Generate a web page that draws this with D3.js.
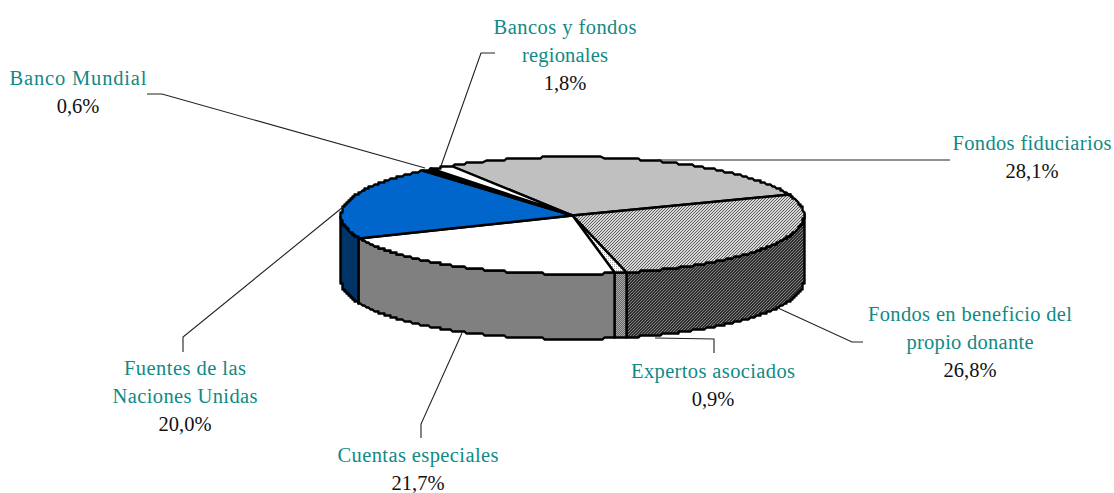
<!DOCTYPE html>
<html>
<head>
<meta charset="utf-8">
<script src="https://cdn.jsdelivr.net/npm/d3@7"></script>
<style>
  html, body { margin: 0; padding: 0; background: #fff; }
  svg { display: block; }
  text { font-family: "Liberation Serif", serif; font-size: 20.5px; text-anchor: middle; }
  .name { fill: #0f8a86; }
  .value { fill: #111; }
</style>
</head>
<body>
<svg id="chart" width="1114" height="493"></svg>
<script>
// Shares of the funding sources, clockwise from the back of the disc
const sources = [
  "Fondos fiduciarios",
  "Fondos en beneficio del propio donante",
  "Expertos asociados",
  "Cuentas especiales",
  "Fuentes de las Naciones Unidas",
  "Banco Mundial",
  "Bancos y fondos regionales"
];
const shares = [28.1, 26.8, 0.9, 21.7, 20.0, 0.6, 1.8];
const shareLabels = ["28,1%", "26,8%", "0,9%", "21,7%", "20,0%", "0,6%", "1,8%"];

const labelLines = [
  [["Fondos fiduciarios", 1032, 150, 159]],
  [["Fondos en beneficio del", 970, 321, 204], ["propio donante", 970, 349, 127]],
  [["Expertos asociados", 713, 378, 164]],
  [["Cuentas especiales", 418, 462, 161]],
  [["Fuentes de las", 185, 375, 122], ["Naciones Unidas", 185, 403, 145]],
  [["Banco Mundial", 78, 85, 137]],
  [["Bancos y fondos", 565, 34, 143], ["regionales", 565, 62, 86]]
];
const leaders = [
  [[657, 160], [950, 160]],
  [[778, 308], [852, 342], [863, 342]],
  [[655, 338], [714, 339], [714, 353]],
  [[462, 333], [421, 424], [421, 438]],
  [[343, 207], [183, 337], [183, 352]],
  [[425, 168], [162, 94], [147, 94]],
  [[441, 166], [481, 53], [495, 53]]
];

const topFills = ["#c0c0c0", "url(#hatchLight)", "url(#dotsLight)", "#ffffff", "#0066cc", "#000000", "#ffffff"];
const sideFills = ["#808080", "url(#hatchDark)", "url(#dotsDark)", "#808080", "#003366", "#000000", "#808080"];

const centerX = 572, centerY = 215, radiusX = 231.5, radiusY = 58.5, depth = 65;
const firstAngle = -31.5 * Math.PI / 180;

const svg = d3.select("#chart");
const defs = svg.append("defs");

// Pixel-level fill textures for the patterned slices
function texture(id, size, base, ink, cells) {
  const p = defs.append("pattern").attr("id", id).attr("patternUnits", "userSpaceOnUse")
    .attr("width", size).attr("height", size);
  p.append("rect").attr("width", size).attr("height", size).attr("fill", base);
  p.selectAll("rect.c").data(cells).join("rect").attr("class", "c")
    .attr("x", d => d[0]).attr("y", d => d[1]).attr("width", 1).attr("height", 1)
    .attr("fill", ink).attr("shape-rendering", "crispEdges");
}
texture("hatchLight", 3, "#d8d8d8", "#5c5c5c", [[0, 0], [1, 2], [2, 1]]);
texture("hatchDark", 3, "#808080", "#303030", [[0, 0], [1, 2], [2, 1], [1, 0], [2, 2], [0, 1]]);
texture("dotsLight", 2, "#ffffff", "#b0b0b0", [[0, 0]]);
texture("dotsDark", 2, "#6a6a6a", "#a8a8a8", [[0, 0], [1, 1]]);

const pie = d3.pie().sort(null).value(d => d)
  .startAngle(firstAngle).endAngle(firstAngle + 2 * Math.PI);
const slices = pie(shares);

// Angle on the disc (0 = back, clockwise) to screen position on the tilted ellipse,
// snapped to a coarse grid so the rim keeps its bumpy outline
const px = d3.scaleLinear().domain([-1, 1]).range([centerX - radiusX, centerX + radiusX]);
const py = d3.scaleLinear().domain([-1, 1]).range([centerY - radiusY, centerY + radiusY]);
const snap = v => Math.round(v / 2) * 2 + 0.5;
const rim = (a, drop = 0) => [snap(px(Math.sin(a))), snap(py(-Math.cos(a))) + drop];
const line = d3.line();
const samples = (a0, a1) => d3.range(0, 161).map(i => a0 + (a1 - a0) * i / 160);

const chart = svg.append("g");

// Only the front half of the wall is seen, from the right edge round to the left
const frontStart = Math.PI / 2, frontEnd = 3 * Math.PI / 2;
const walls = slices.map((s, i) => {
  const a0 = Math.max(s.startAngle, frontStart), a1 = Math.min(s.endAngle, frontEnd);
  return a1 > a0 ? { i, a0, a1 } : null;
}).filter(Boolean);

chart.selectAll("path.wall").data(walls).join("path").attr("class", "wall")
  .attr("d", d => {
    const upper = samples(d.a0, d.a1).map(a => rim(a));
    const lower = samples(d.a1, d.a0).map(a => rim(a, depth));
    return line(upper.concat(lower)) + "Z";
  })
  .attr("fill", d => sideFills[d.i])
  .attr("stroke", "#000").attr("stroke-width", 2.4)
  .attr("stroke-linejoin", "round");

chart.selectAll("path.top").data(slices).join("path").attr("class", "top")
  .attr("d", (s) => line([[centerX + 0.5, centerY + 0.5]].concat(samples(s.startAngle, s.endAngle).map(a => rim(a)))) + "Z")
  .attr("fill", (s, i) => topFills[i])
  .attr("stroke", "#000").attr("stroke-width", 2.4)
  .attr("stroke-linejoin", "round");

// Leader lines from the slices out to their labels
svg.append("g").selectAll("path").data(leaders).join("path")
  .attr("d", d => line(d))
  .attr("fill", "none").attr("stroke", "#222").attr("stroke-width", 1.1);

// Slice names in teal with the share below in black
const labels = svg.append("g").selectAll("g").data(sources).join("g");
labels.each(function (name, i) {
  const g = d3.select(this);
  const rows = labelLines[i];
  rows.forEach(r => {
    g.append("text").attr("class", "name").attr("x", r[1]).attr("y", r[2])
      .attr("textLength", r[3]).attr("lengthAdjust", "spacing").text(r[0]);
  });
  const last = rows[rows.length - 1];
  g.append("text").attr("class", "value").attr("x", last[1]).attr("y", last[2] + 28).text(shareLabels[i]);
});
</script>
</body>
</html>
